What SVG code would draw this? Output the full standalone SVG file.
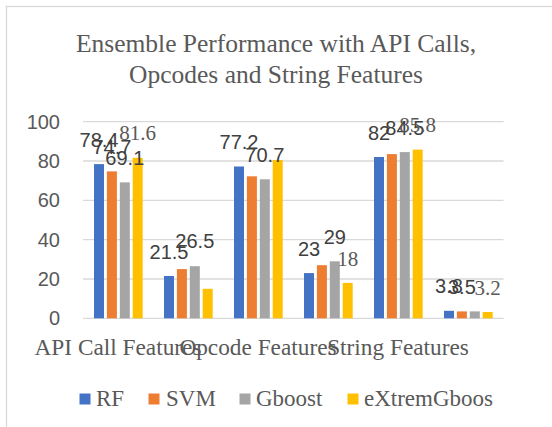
<svg xmlns="http://www.w3.org/2000/svg" width="552" height="427" viewBox="0 0 552 427">
  <style>
    .frame { fill: #ffffff; stroke: #d9d9d9; stroke-width: 1.3; }
    .grid { stroke: #d9d9d9; stroke-width: 1.3; }
    .title { font-family: "Liberation Serif", "Times New Roman", serif; font-size: 25.5px; fill: #595959; text-anchor: middle; }
    .ytick { font-family: "Liberation Sans", Arial, sans-serif; font-size: 20px; fill: #595959; text-anchor: end; }
    .cat { font-family: "Liberation Serif", "Times New Roman", serif; font-size: 23.3px; fill: #595959; text-anchor: middle; }
    .val { font-family: "Liberation Sans", Arial, sans-serif; font-size: 20px; fill: #404040; text-anchor: middle; }
    .vals { font-family: "Liberation Serif", "Times New Roman", serif; font-size: 21px; fill: #595959; text-anchor: middle; }
    .leg { font-family: "Liberation Serif", "Times New Roman", serif; font-size: 23px; fill: #595959; }
    .rf { fill: #4472c4; }
    .svm { fill: #ed7d31; }
    .gb { fill: #a5a5a5; }
    .ex { fill: #ffc000; }
  </style>

  <rect x="0" y="0" width="552" height="427" fill="#ffffff"/>
  <rect class="frame" x="6.5" y="6.5" width="580" height="440"/>

  <g id="title">
    <text class="title" x="276" y="52">Ensemble Performance with API Calls,</text>
    <text class="title" x="276" y="83">Opcodes and String Features</text>
  </g>

  <!-- value axis: 0..100, 1.9667 px per unit, zero at y=318.3 -->
  <g id="gridlines">
    <line class="grid" x1="83" y1="121.7" x2="503.5" y2="121.7"/>
    <line class="grid" x1="83" y1="161" x2="503.5" y2="161"/>
    <line class="grid" x1="83" y1="200.4" x2="503.5" y2="200.4"/>
    <line class="grid" x1="83" y1="239.7" x2="503.5" y2="239.7"/>
    <line class="grid" x1="83" y1="279" x2="503.5" y2="279"/>
    <line class="grid" x1="83" y1="318.3" x2="503.5" y2="318.3"/>
  </g>

  <g id="y-axis">
    <text class="ytick" x="60" y="128.7">100</text>
    <text class="ytick" x="60" y="168">80</text>
    <text class="ytick" x="60" y="207.4">60</text>
    <text class="ytick" x="60" y="246.7">40</text>
    <text class="ytick" x="60" y="286">20</text>
    <text class="ytick" x="60" y="325.3">0</text>
  </g>

  <g id="series-rf">
    <rect class="rf" x="94" y="164.1" width="10" height="154.2"/>
    <rect class="rf" x="164" y="276" width="10" height="42.3"/>
    <rect class="rf" x="234" y="166.5" width="10" height="151.8"/>
    <rect class="rf" x="304" y="273.1" width="10" height="45.2"/>
    <rect class="rf" x="374" y="157" width="10" height="161.3"/>
    <rect class="rf" x="444" y="310.8" width="10" height="7.5"/>
  </g>
  <g id="series-svm">
    <rect class="svm" x="106.9" y="171.4" width="10" height="146.9"/>
    <rect class="svm" x="176.9" y="269.1" width="10" height="49.2"/>
    <rect class="svm" x="246.9" y="176.3" width="10" height="142"/>
    <rect class="svm" x="316.9" y="265.2" width="10" height="53.1"/>
    <rect class="svm" x="386.9" y="154.1" width="10" height="164.2"/>
    <rect class="svm" x="456.9" y="311.4" width="10" height="6.9"/>
  </g>
  <g id="series-gboost">
    <rect class="gb" x="119.8" y="182.4" width="10" height="135.9"/>
    <rect class="gb" x="189.8" y="266.2" width="10" height="52.1"/>
    <rect class="gb" x="259.8" y="179.3" width="10" height="139"/>
    <rect class="gb" x="329.8" y="261.3" width="10" height="57"/>
    <rect class="gb" x="399.8" y="152.1" width="10" height="166.2"/>
    <rect class="gb" x="469.8" y="311.4" width="10" height="6.9"/>
  </g>
  <g id="series-extremgboost">
    <rect class="ex" x="132.7" y="157.8" width="10" height="160.5"/>
    <rect class="ex" x="202.7" y="288.8" width="10" height="29.5"/>
    <rect class="ex" x="272.7" y="160" width="10" height="158.3"/>
    <rect class="ex" x="342.7" y="282.9" width="10" height="35.4"/>
    <rect class="ex" x="412.7" y="149.6" width="10" height="168.7"/>
    <rect class="ex" x="482.7" y="312" width="10" height="6.3"/>
  </g>

  <g id="data-labels">
    <text class="val" x="99" y="146.6">78.4</text>
    <text class="val" x="111.9" y="153.9">74.7</text>
    <text class="val" x="124.8" y="164.9">69.1</text>
    <text class="vals" x="137.7" y="140.3">81.6</text>

    <text class="val" x="169" y="258.5">21.5</text>
    <text class="val" x="194.8" y="247.7">26.5</text>

    <text class="val" x="239" y="149">77.2</text>
    <text class="val" x="264.8" y="161.8">70.7</text>

    <text class="val" x="309" y="255.6">23</text>
    <text class="val" x="334.8" y="243.8">29</text>
    <text class="vals" x="347.7" y="265.6">18</text>

    <text class="val" x="379" y="139.5">82</text>
    <text class="val" x="404.8" y="134.6">84.5</text>
    <text class="vals" x="417.7" y="132.1">85.8</text>

    <text class="val" x="449" y="293.3">3.8</text>
    <text class="val" x="461.9" y="293.9">3.5</text>
    <text class="vals" x="487.7" y="294.5">3.2</text>
  </g>

  <g id="x-axis">
    <text class="cat" x="118" y="355">API Call Features</text>
    <text class="cat" x="258" y="355">Opcode Features</text>
    <text class="cat" x="398" y="355">String Features</text>
  </g>

  <g id="legend">
    <rect class="rf" x="79.5" y="393.5" width="11" height="11"/>
    <text class="leg" x="96" y="406">RF</text>
    <rect class="svm" x="148.5" y="393.5" width="11" height="11"/>
    <text class="leg" x="166" y="406">SVM</text>
    <rect class="gb" x="239.5" y="393.5" width="11" height="11"/>
    <text class="leg" x="256" y="406">Gboost</text>
    <rect class="ex" x="347.5" y="393.5" width="11" height="11"/>
    <text class="leg" x="364" y="406">eXtremGboos</text>
  </g>
</svg>
